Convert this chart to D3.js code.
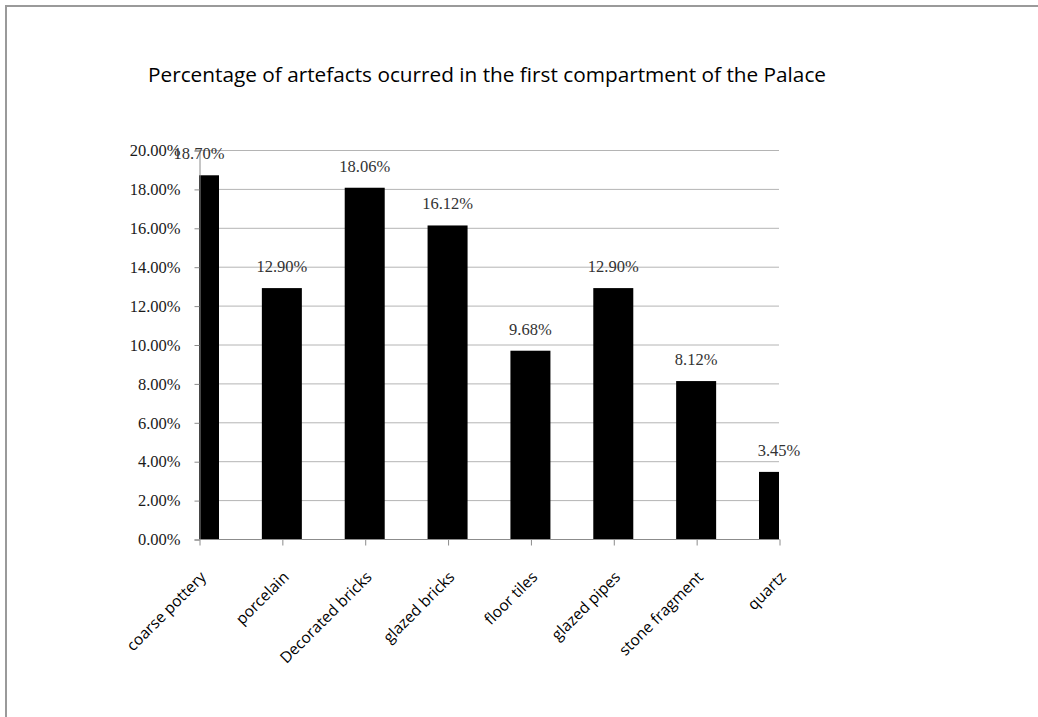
<!DOCTYPE html>
<html>
<head>
<meta charset="utf-8">
<script src="https://cdn.jsdelivr.net/npm/d3@7"></script>
<style>
  html, body { margin: 0; padding: 0; background: #fff; }
  svg { display: block; }
</style>
</head>
<body>
<script>
// Artefact categories and their share (%) in the first compartment
const categories = ["coarse pottery", "porcelain", "Decorated bricks", "glazed bricks",
                    "floor tiles", "glazed pipes", "stone fragment", "quartz"];
const percentages = [18.70, 12.90, 18.06, 16.12, 9.68, 12.90, 8.12, 3.45];
const yTicks = [0, 2, 4, 6, 8, 10, 12, 14, 16, 18, 20];
const titleText = "Percentage of artefacts ocurred in the first compartment of the Palace";

const W = 1038, H = 717;
const plot = { left: 199, right: 779, top: 150, bottom: 539 };

const svg = d3.select("body").append("svg")
  .attr("width", W).attr("height", H);

// Chart frame (top and left edges visible)
svg.append("path")
  .attr("d", `M6,${H} L6,6 L${W},6`)
  .attr("fill", "none")
  .attr("stroke", "#9a9a9a")
  .attr("stroke-width", 2);

svg.append("text")
  .attr("x", 487).attr("y", 82)
  .attr("text-anchor", "middle")
  .attr("font-family", "'Open Sans', sans-serif")
  .attr("font-size", 20)
  .attr("textLength", 678)
  .attr("lengthAdjust", "spacingAndGlyphs")
  .attr("fill", "#000")
  .text(titleText);

// Categories sit on the tick marks, first and last bar are half inside the plot
const x = d3.scalePoint().domain(categories).range([plot.left, plot.right]);
const y = d3.scaleLinear().domain([0, 20]).range([plot.bottom, plot.top]);
const barW = 40;

svg.append("defs").append("clipPath").attr("id", "plotClip")
  .append("rect")
  .attr("x", plot.left).attr("y", plot.top - 40)
  .attr("width", plot.right - plot.left).attr("height", plot.bottom - plot.top + 40);

// Gridlines
svg.append("g")
  .selectAll("line")
  .data(yTicks.filter(d => d > 0))
  .join("line")
  .attr("x1", plot.left).attr("x2", plot.right)
  .attr("y1", d => y(d) + 0.5).attr("y2", d => y(d) + 0.5)
  .attr("stroke", "#b4b4b4").attr("stroke-width", 1);

// Bars
svg.append("g").attr("clip-path", "url(#plotClip)")
  .selectAll("rect")
  .data(percentages)
  .join("rect")
  .attr("x", (d, i) => x(categories[i]) - barW / 2)
  .attr("width", barW)
  .attr("y", d => y(d))
  .attr("height", d => plot.bottom - y(d))
  .attr("fill", "#000");

// Y axis
const yAxis = d3.axisLeft(y)
  .tickValues(yTicks)
  .tickFormat(d => d.toFixed(2) + "%")
  .tickSize(5)
  .tickPadding(14);
const gy = svg.append("g")
  .attr("transform", `translate(${plot.left + 0.5},0.5)`)
  .call(yAxis);
gy.select(".domain").attr("stroke", "#8c8c8c");
gy.selectAll(".tick line").attr("stroke", "#8c8c8c");
gy.selectAll(".tick text")
  .attr("font-family", "'Liberation Serif', serif")
  .attr("font-size", 16.5)
  .attr("fill", "#1a1a1a");

// X axis
const xAxis = d3.axisBottom(x).tickSize(6).tickFormat("");
const gx = svg.append("g")
  .attr("transform", `translate(0.5,${plot.bottom + 0.5})`)
  .call(xAxis);
gx.select(".domain").attr("stroke", "#8c8c8c").attr("d", `M${plot.left},0H${plot.right}`);
gx.selectAll(".tick line").attr("stroke", "#8c8c8c");

// Rotated category labels
svg.append("g")
  .selectAll("text")
  .data(categories)
  .join("text")
  .attr("transform", d => `translate(${x(d) + 8},${plot.bottom + 39}) rotate(-45)`)
  .attr("text-anchor", "end")
  .attr("font-family", "'Open Sans', sans-serif")
  .attr("font-size", 15.5)
  .attr("fill", "#000")
  .text(d => d);

// Value labels
svg.append("g")
  .selectAll("text")
  .data(percentages)
  .join("text")
  .attr("x", (d, i) => x(categories[i]))
  .attr("y", d => y(d) - 16)
  .attr("text-anchor", "middle")
  .attr("font-family", "'Liberation Serif', serif")
  .attr("font-size", 16.5)
  .attr("fill", "#333")
  .text(d => d.toFixed(2) + "%");
</script>
</body>
</html>
